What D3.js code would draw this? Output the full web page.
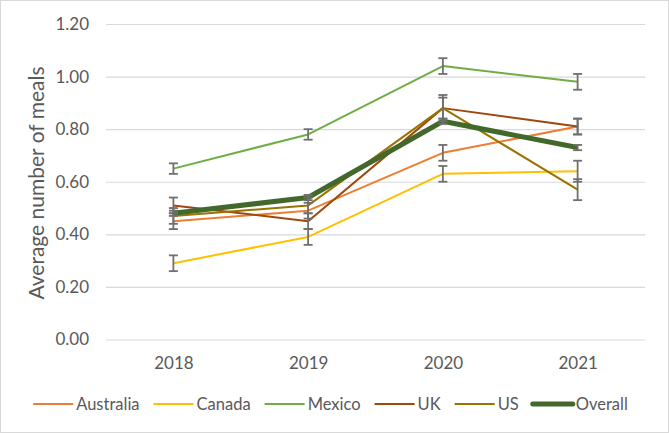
<!DOCTYPE html>
<html><head><meta charset="utf-8">
<script src="https://cdn.jsdelivr.net/npm/d3@7"></script>
<style>body{margin:0;background:#fff}svg{display:block}text{font-family:Lato,"Open Sans",sans-serif;fill:#595959}</style>
</head><body><svg id="c" width="669" height="433"></svg>
<script>
const years = ["2018","2019","2020","2021"];
const yTicks = [0,0.2,0.4,0.6,0.8,1.0,1.2];
const seriesNames = ["Australia","Canada","Mexico","UK","US","Overall"];
const australia = [0.45,0.49,0.71,0.81];
const canada    = [0.29,0.39,0.63,0.64];
const mexico    = [0.65,0.78,1.04,0.98];
const uk        = [0.51,0.45,0.88,0.81];
const us        = [0.47,0.51,0.88,0.57];
const overall   = [0.48,0.54,0.83,0.73];
const australiaErr = [0.03,0.03,0.03,0.03];
const canadaErr    = [0.03,0.03,0.03,0.04];
const mexicoErr    = [0.02,0.02,0.03,0.03];
const ukErr        = [0.03,0.03,0.05,0.03];
const usErr        = [0.03,0.03,0.04,0.04];
const overallErr   = [0.01,0.01,0.01,0.01];
const colors = ["#ED7D31","#FFC000","#70AD47","#9E480E","#997300","#43682B"];

const series = seriesNames.map((n,i)=>({name:n,values:[australia,canada,mexico,uk,us,overall][i],
  err:[australiaErr,canadaErr,mexicoErr,ukErr,usErr,overallErr][i],color:colors[i],width:n==="Overall"?5:2}));

const svg = d3.select("#c");
svg.append("rect").attr("x",0.5).attr("y",0.5).attr("width",668).attr("height",432)
  .attr("fill","#fff").attr("stroke","#d9d9d9");

const x = d3.scalePoint().domain(years).range([106,645]).padding(0.5);
const y = d3.scaleLinear().domain([0,1.2]).range([339.5,24]);

// grid + y labels
const yAxis = d3.axisLeft(y).tickValues(yTicks).tickFormat(d3.format(".2f")).tickSize(-(645-106)).tickPadding(17);
const gy = svg.append("g").attr("transform","translate(106,0)").call(yAxis);
gy.select(".domain").remove();
gy.selectAll(".tick line").attr("stroke","#d9d9d9").attr("stroke-width",1.2);
gy.selectAll(".tick text").style("font-size","17px").attr("fill","#595959");

// x labels
const xAxis = d3.axisBottom(x).tickSize(0).tickPadding(17);
const gx = svg.append("g").attr("transform","translate(0,339.5)").call(xAxis);
gx.select(".domain").remove();
gx.selectAll(".tick text").style("font-size","17px").attr("fill","#595959");

// y title
svg.append("text").attr("transform","translate(44,183) rotate(-90)").attr("text-anchor","middle")
  .style("font-size","21px").text("Average number of meals");

const line = d3.line().x((d,i)=>x(years[i])).y(d=>y(d));
series.forEach(s=>{
  svg.append("path").datum(s.values).attr("d",line).attr("fill","none")
    .attr("stroke",s.color).attr("stroke-width",s.width).attr("stroke-linejoin","round");
});
// error bars
series.forEach(s=>{
  const g = svg.append("g").attr("stroke","#6f6f6f").attr("stroke-width",1.8);
  s.values.forEach((v,i)=>{
    const cx = x(years[i]), e = s.err[i];
    g.append("line").attr("x1",cx).attr("x2",cx).attr("y1",y(v+e)).attr("y2",y(v-e));
    g.append("line").attr("x1",cx-4.5).attr("x2",cx+4.5).attr("y1",y(v+e)).attr("y2",y(v+e));
    g.append("line").attr("x1",cx-4.5).attr("x2",cx+4.5).attr("y1",y(v-e)).attr("y2",y(v-e));
  });
});

// legend
const lg = svg.append("g");
let cur = 0;
series.forEach(s=>{
  const g = lg.append("g");
  g.append("line").attr("x1",0).attr("x2",40).attr("y1",0).attr("y2",0)
    .attr("stroke",s.color).attr("stroke-width",s.width).attr("stroke-linecap",s.name==="Overall"?"round":"butt");
  const t = g.append("text").attr("x",43).attr("y",6).style("font-size","16.5px").text(s.name);
  const w = 43 + t.node().getComputedTextLength();
  g.attr("transform",`translate(${cur},404)`);
  cur += w + 14;
});
cur -= 14;
lg.attr("transform",`translate(${(669-cur)/2 - 4},0)`);
</script></body></html>
